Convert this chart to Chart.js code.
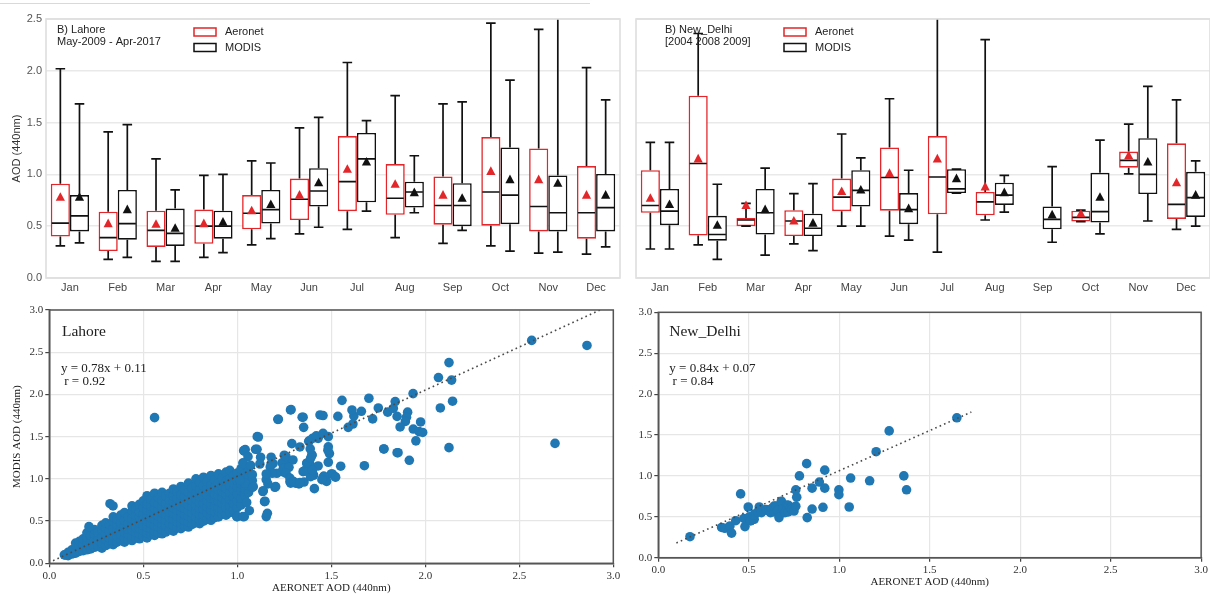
<!DOCTYPE html>
<html>
<head>
<meta charset="utf-8">
<script src="https://cdn.jsdelivr.net/npm/chart.js@4.4.1/dist/chart.umd.min.js"></script>
<style>
  html, body { margin: 0; padding: 0; background: #fff; }
  body { width: 1210px; height: 595px; position: relative; overflow: hidden; }
  .panel { position: absolute; }
  #rule { position: absolute; left: 0; top: 3px; width: 590px; height: 1px; background: #d9d9d9; }
</style>
</head>
<body>
<div id="rule"></div>
<div class="panel" style="left:0;top:0"><canvas id="boxLahore" width="625" height="300"></canvas></div>
<div class="panel" style="left:625px;top:0"><canvas id="boxDelhi" width="585" height="300"></canvas></div>
<div class="panel" style="left:0;top:300px"><canvas id="scatLahore" width="625" height="295"></canvas></div>
<div class="panel" style="left:625px;top:300px"><canvas id="scatDelhi" width="585" height="295"></canvas></div>
<script>
// ---- monthly AOD statistics, rows: [min, q1, median, q3, max, mean] ----
const months = ['Jan', 'Feb', 'Mar', 'Apr', 'May', 'Jun', 'Jul', 'Aug', 'Sep', 'Oct', 'Nov', 'Dec'];
const yTicks = [0, 0.5, 1.0, 1.5, 2.0, 2.5];

const lahoreAeronet = [
  [0.31, 0.40, 0.53, 0.91, 2.02, 0.78],
  [0.18, 0.26, 0.39, 0.64, 1.41, 0.525],
  [0.16, 0.30, 0.46, 0.65, 1.15, 0.52],
  [0.20, 0.33, 0.50, 0.66, 0.99, 0.525],
  [0.32, 0.47, 0.625, 0.80, 1.13, 0.65],
  [0.425, 0.56, 0.76, 0.96, 1.45, 0.80],
  [0.47, 0.645, 0.93, 1.37, 2.08, 1.05],
  [0.39, 0.61, 0.77, 1.10, 1.76, 0.905],
  [0.335, 0.515, 0.70, 0.98, 1.68, 0.80],
  [0.31, 0.505, 0.83, 1.36, 2.46, 1.03],
  [0.24, 0.45, 0.69, 1.25, 2.40, 0.95],
  [0.23, 0.38, 0.63, 1.08, 2.03, 0.80]
];
const lahoreModis = [
  [0.34, 0.45, 0.60, 0.80, 1.68, 0.78],
  [0.20, 0.37, 0.525, 0.85, 1.48, 0.66],
  [0.16, 0.31, 0.43, 0.67, 0.85, 0.48],
  [0.245, 0.38, 0.50, 0.65, 1.00, 0.54],
  [0.38, 0.525, 0.66, 0.85, 1.11, 0.71],
  [0.49, 0.69, 0.84, 1.06, 1.55, 0.92],
  [0.645, 0.73, 1.15, 1.40, 1.52, 1.12],
  [0.63, 0.68, 0.83, 0.93, 1.18, 0.825],
  [0.46, 0.50, 0.70, 0.915, 1.70, 0.77],
  [0.26, 0.52, 0.80, 1.26, 1.91, 0.95],
  [0.25, 0.45, 0.63, 0.99, 2.60, 0.915],
  [0.30, 0.45, 0.68, 1.005, 1.72, 0.80]
];
const delhiAeronet = [
  [0.28, 0.63, 0.70, 1.04, 1.31, 0.77],
  [0.32, 0.41, 1.105, 1.76, 2.36, 1.15],
  [0.50, 0.50, 0.56, 0.58, 0.72, 0.70],
  [0.33, 0.405, 0.55, 0.655, 0.815, 0.55],
  [0.50, 0.645, 0.78, 0.96, 1.39, 0.835],
  [0.405, 0.65, 0.97, 1.26, 1.73, 1.01],
  [0.25, 0.615, 0.975, 1.37, 2.60, 1.15],
  [0.56, 0.605, 0.735, 0.83, 2.30, 0.88],
  null,
  [0.545, 0.545, 0.585, 0.65, 0.655, 0.62],
  [1.005, 1.065, 1.135, 1.22, 1.485, 1.18],
  [0.47, 0.57, 0.71, 1.30, 1.72, 0.92]
];
const delhiModis = [
  [0.28, 0.51, 0.645, 0.86, 1.31, 0.71],
  [0.18, 0.36, 0.42, 0.60, 0.905, 0.51],
  [0.22, 0.42, 0.63, 0.86, 1.06, 0.66],
  [0.265, 0.405, 0.48, 0.62, 0.91, 0.53],
  [0.50, 0.69, 0.845, 1.04, 1.16, 0.85],
  [0.365, 0.52, 0.66, 0.82, 1.04, 0.67],
  [0.82, 0.82, 0.86, 1.05, 1.05, 0.96],
  [0.635, 0.705, 0.80, 0.92, 0.99, 0.825],
  [0.345, 0.47, 0.565, 0.69, 1.075, 0.61],
  [0.425, 0.535, 0.64, 1.015, 1.33, 0.78],
  [0.55, 0.81, 1.00, 1.35, 1.85, 1.12],
  [0.50, 0.59, 0.775, 1.025, 1.13, 0.80]
];

// ---- matched AERONET / MODIS AOD pairs [aeronet, modis] ----
const lahorePairs = [
  // dense band
  [0.08,0.10],[0.10,0.09],[0.10,0.13],[0.12,0.11],[0.12,0.16],
  [0.14,0.12],[0.14,0.18],[0.14,0.24],[0.16,0.14],[0.16,0.20],[0.16,0.26],
  [0.18,0.15],[0.18,0.22],[0.18,0.29],[0.20,0.16],[0.20,0.23],[0.20,0.31],[0.20,0.36],
  [0.22,0.17],[0.22,0.25],[0.22,0.33],[0.24,0.19],[0.24,0.27],[0.24,0.35],[0.24,0.40],
  [0.26,0.20],[0.26,0.28],[0.26,0.37],[0.28,0.18],[0.28,0.24],[0.28,0.31],[0.28,0.39],[0.28,0.45],
  [0.30,0.21],[0.30,0.28],[0.30,0.35],[0.30,0.42],[0.30,0.48],
  [0.32,0.23],[0.32,0.30],[0.32,0.38],[0.32,0.46],
  [0.34,0.22],[0.34,0.27],[0.34,0.33],[0.34,0.41],[0.34,0.50],[0.34,0.55],
  [0.36,0.25],[0.36,0.32],[0.36,0.38],[0.36,0.45],[0.36,0.52],
  [0.38,0.27],[0.38,0.34],[0.38,0.41],[0.38,0.48],[0.38,0.57],
  [0.40,0.25],[0.40,0.30],[0.40,0.37],[0.40,0.44],[0.40,0.51],[0.40,0.60],
  [0.42,0.28],[0.42,0.35],[0.42,0.40],[0.42,0.47],[0.42,0.55],
  [0.44,0.27],[0.44,0.33],[0.44,0.39],[0.44,0.46],[0.44,0.53],[0.44,0.62],[0.44,0.68],
  [0.46,0.30],[0.46,0.37],[0.46,0.43],[0.46,0.50],[0.46,0.57],[0.46,0.65],
  [0.48,0.29],[0.48,0.35],[0.48,0.41],[0.48,0.48],[0.48,0.55],[0.48,0.61],[0.48,0.70],
  [0.50,0.32],[0.50,0.39],[0.50,0.45],[0.50,0.52],[0.50,0.58],[0.50,0.66],[0.50,0.74],
  [0.52,0.30],[0.52,0.36],[0.52,0.43],[0.52,0.50],[0.52,0.56],[0.52,0.63],[0.52,0.70],[0.52,0.80],
  [0.54,0.34],[0.54,0.41],[0.54,0.47],[0.54,0.54],[0.54,0.61],[0.54,0.68],[0.54,0.76],
  [0.56,0.33],[0.56,0.38],[0.56,0.45],[0.56,0.52],[0.56,0.59],[0.56,0.65],[0.56,0.72],[0.56,0.83],
  [0.58,0.36],[0.58,0.43],[0.58,0.49],[0.58,0.56],[0.58,0.63],[0.58,0.70],[0.58,0.78],
  [0.60,0.35],[0.60,0.40],[0.60,0.46],[0.60,0.53],[0.60,0.60],[0.60,0.67],[0.60,0.74],[0.60,0.84],
  [0.62,0.37],[0.62,0.44],[0.62,0.51],[0.62,0.58],[0.62,0.64],[0.62,0.71],[0.62,0.80],
  [0.64,0.40],[0.64,0.47],[0.64,0.54],[0.64,0.61],[0.64,0.68],[0.64,0.75],[0.64,0.83],
  [0.66,0.38],[0.66,0.45],[0.66,0.52],[0.66,0.59],[0.66,0.66],[0.66,0.73],[0.66,0.80],[0.66,0.88],
  [0.68,0.42],[0.68,0.49],[0.68,0.56],[0.68,0.63],[0.68,0.70],[0.68,0.77],[0.68,0.85],
  [0.70,0.41],[0.70,0.47],[0.70,0.54],[0.70,0.61],[0.70,0.67],[0.70,0.74],[0.70,0.81],[0.70,0.91],
  [0.72,0.44],[0.72,0.51],[0.72,0.58],[0.72,0.65],[0.72,0.72],[0.72,0.79],[0.72,0.87],
  [0.74,0.43],[0.74,0.49],[0.74,0.56],[0.74,0.62],[0.74,0.69],[0.74,0.76],[0.74,0.84],[0.74,0.95],
  [0.76,0.46],[0.76,0.53],[0.76,0.60],[0.76,0.67],[0.76,0.74],[0.76,0.81],[0.76,0.89],
  [0.78,0.48],[0.78,0.55],[0.78,0.62],[0.78,0.69],[0.78,0.76],[0.78,0.83],[0.78,0.92],[0.78,1.00],
  [0.80,0.47],[0.80,0.51],[0.80,0.58],[0.80,0.65],[0.80,0.72],[0.80,0.79],[0.80,0.87],[0.80,0.96],
  [0.82,0.50],[0.82,0.57],[0.82,0.64],[0.82,0.71],[0.82,0.78],[0.82,0.85],[0.82,0.92],[0.82,1.02],
  [0.84,0.52],[0.84,0.60],[0.84,0.67],[0.84,0.74],[0.84,0.81],[0.84,0.89],[0.84,0.97],
  [0.86,0.51],[0.86,0.56],[0.86,0.63],[0.86,0.70],[0.86,0.77],[0.86,0.85],[0.86,0.93],[0.86,1.04],
  [0.88,0.54],[0.88,0.61],[0.88,0.68],[0.88,0.75],[0.88,0.82],[0.88,0.90],[0.88,0.99],
  [0.90,0.55],[0.90,0.62],[0.90,0.66],[0.90,0.73],[0.90,0.80],[0.90,0.87],[0.90,0.95],[0.90,1.06],
  [0.92,0.58],[0.92,0.64],[0.92,0.71],[0.92,0.78],[0.92,0.85],[0.92,0.92],[0.92,1.01],
  [0.94,0.57],[0.94,0.66],[0.94,0.74],[0.94,0.82],[0.94,0.89],[0.94,0.97],[0.94,1.08],
  [0.96,0.60],[0.96,0.68],[0.96,0.76],[0.96,0.84],[0.96,0.92],[0.96,1.00],[0.96,1.10],
  [0.98,0.63],[0.98,0.71],[0.98,0.79],[0.98,0.87],[0.98,0.95],[0.98,1.04],
  [1.00,0.66],[1.00,0.74],[1.00,0.82],[1.00,0.90],[1.00,0.98],[1.00,1.07],
  [1.02,0.69],[1.02,0.77],[1.02,0.86],[1.02,0.94],[1.02,1.03],[1.02,1.12],
  [1.04,0.80],[1.04,0.88],[1.04,0.97],[1.04,1.06],[1.06,0.84],[1.06,0.92],[1.06,1.00],[1.06,1.10],
  [1.08,0.90],[1.08,0.98],[1.08,1.05],
  // scattered points
  [0.56,1.725],[0.323,0.706],[0.339,0.679],[0.211,0.434],[0.114,0.126],[0.087,0.098],
  [1.037,1.33],[1.03,1.19],[0.997,0.552],[1.037,0.552],
  [1.106,1.50],[1.042,1.346],[1.097,1.35],[1.00,0.553],[1.03,0.553],[1.154,0.553],[1.145,0.73],
  [1.136,0.85],[1.154,0.99],[1.175,1.14],[1.20,0.90],[1.216,1.705],[1.283,1.816],[1.345,1.73],
  [1.25,1.28],[1.26,1.216],[1.24,1.086],[1.28,0.967],[1.31,0.95],[1.44,1.757],[1.43,1.48],
  [1.387,1.165],[1.357,1.095],[1.21,1.066],[1.19,1.18],
  [1.286,1.82],[1.218,1.706],[1.112,1.496],[1.034,1.334],[1.105,1.35],[1.057,1.263],[1.032,1.18],
  [1.071,1.16],[1.124,1.256],[1.12,1.176],[1.18,1.256],[1.18,1.176],[1.238,1.19],[1.259,1.263],
  [1.296,1.224],[1.29,1.417],[1.245,1.125],[1.275,1.137],[1.259,1.066],[1.28,1.01],[1.284,0.95],
  [1.328,0.94],[1.204,0.908],[1.163,0.94],[1.138,0.86],[1.147,0.735],[1.064,0.623],[1.05,0.72],
  [1.16,0.592],[1.185,1.066],[1.154,1.058],[1.35,1.085],[1.37,1.185],[1.397,1.28],[1.38,1.445],
  [1.417,1.49],[1.52,1.026],[1.50,1.058],[1.406,1.043],[1.46,1.03],[1.041,0.948],[1.085,0.908],[1.014,0.987],
  [1.355,0.963],[1.30,0.967],[1.387,1.16],
  [1.333,0.955],[1.333,1.378],[1.353,1.61],[1.35,1.73],[1.456,1.75],[1.535,1.74],[1.62,1.745],
  [1.61,1.816],[1.66,1.80],[1.557,1.93],[1.70,1.955],[1.75,1.84],[1.72,1.71],[1.615,1.65],[1.59,1.61],
  [1.80,1.79],[1.83,1.836],[1.84,1.915],[1.85,1.74],[1.906,1.79],[1.90,1.73],[1.894,1.68],[1.866,1.615],
  [1.935,2.01],[1.975,1.674],[1.936,1.59],[1.967,1.56],[1.986,1.55],[1.95,1.45],[1.78,1.354],
  [1.855,1.31],[1.915,1.22],[1.676,1.156],[1.55,1.15],[1.505,1.058],[1.523,1.02],[1.475,0.97],
  [1.46,1.03],[1.41,0.884],[1.40,1.066],[1.39,1.026],[1.355,1.09],[1.43,1.153],[1.484,1.197],
  [1.37,1.185],[1.39,1.244],[1.397,1.283],[1.49,1.30],[1.484,1.38],[1.482,1.34],[1.388,1.354],
  [1.383,1.45],[1.40,1.48],[1.42,1.51],[1.456,1.54],[1.484,1.50],[1.45,0.99],[1.40,1.10],
  [1.779,1.354],[1.85,1.31],
  [2.08,1.84],[2.145,1.92],[2.07,2.20],[2.14,2.17],[2.126,2.377],[2.126,1.37],[2.69,1.42],
  [2.566,2.64],[2.86,2.58]
];
const delhiPairs = [
  [0.175,0.257],[0.35,0.37],[0.368,0.36],[0.396,0.388],[0.405,0.30],[0.428,0.452],[0.455,0.78],
  [0.479,0.38],[0.473,0.48],[0.497,0.62],[0.503,0.50],[0.516,0.46],[0.53,0.47],[0.534,0.534],
  [0.51,0.45],[0.527,0.52],[0.55,0.56],[0.558,0.62],[0.57,0.55],[0.595,0.59],[0.60,0.58],
  [0.613,0.575],[0.62,0.55],[0.626,0.60],[0.64,0.56],[0.64,0.63],[0.65,0.63],[0.66,0.58],
  [0.667,0.49],[0.68,0.69],[0.69,0.60],[0.70,0.55],[0.71,0.644],[0.718,0.56],[0.72,0.64],
  [0.73,0.61],[0.737,0.59],[0.75,0.57],[0.76,0.63],[0.765,0.74],[0.76,0.83],[0.78,1.00],
  [0.82,1.15],[0.823,0.49],[0.85,0.595],[0.85,0.85],[0.89,0.925],[0.92,0.85],[0.92,1.07],
  [0.91,0.616],[0.998,0.83],[0.998,0.77],[1.055,0.62],[1.063,0.974],[1.168,0.94],[1.204,1.296],
  [1.276,1.55],[1.357,1.00],[1.372,0.83],[1.65,1.71]
];

// ---- dotted reference lines through each scatter [aeronet, modis] ----
const lahoreLine = [[0.02, 0.03], [2.93, 3.0]];
const delhiLine = [[0.10, 0.18], [1.73, 1.78]];

const RED = '#e3262a';
const INK = '#111111';
const SANS = '"Liberation Sans", Arial, sans-serif';
const SERIF = '"Liberation Serif", "Times New Roman", serif';

// whiskers, caps, medians and mean markers around each floating bar
const boxExtras = {
  id: 'boxExtras',
  afterDatasetsDraw(chart) {
    const { ctx, chartArea: a, scales: { y } } = chart;
    ctx.save();
    ctx.beginPath();
    ctx.rect(a.left, a.top, a.right - a.left, a.bottom - a.top);
    ctx.clip();
    chart.data.datasets.forEach((ds, di) => {
      const meta = chart.getDatasetMeta(di);
      meta.data.forEach((bar, i) => {
        const r = ds.stats[i];
        if (!r) return;
        const cx = bar.x, w = bar.width;
        const py = v => y.getPixelForValue(v);
        ctx.strokeStyle = INK;
        ctx.lineWidth = 1.7;
        ctx.beginPath();
        ctx.moveTo(cx, py(r[3])); ctx.lineTo(cx, py(r[4]));
        ctx.moveTo(cx, py(r[1])); ctx.lineTo(cx, py(r[0]));
        ctx.moveTo(cx - w / 4, py(r[4])); ctx.lineTo(cx + w / 4, py(r[4]));
        ctx.moveTo(cx - w / 4, py(r[0])); ctx.lineTo(cx + w / 4, py(r[0]));
        ctx.moveTo(cx - w / 2 + 1, py(r[2])); ctx.lineTo(cx + w / 2 - 1, py(r[2]));
        ctx.stroke();
        const my = py(r[5]);
        ctx.fillStyle = ds.borderColor;
        ctx.beginPath();
        ctx.moveTo(cx, my - 5);
        ctx.lineTo(cx + 4.6, my + 3.6);
        ctx.lineTo(cx - 4.6, my + 3.6);
        ctx.closePath();
        ctx.fill();
      });
    });
    ctx.restore();
  }
};

// border around the plotting area
const frame = {
  id: 'frame',
  afterDraw(chart, args, opts) {
    const { ctx, chartArea: a } = chart;
    ctx.save();
    ctx.strokeStyle = opts.color;
    ctx.lineWidth = opts.width;
    ctx.strokeRect(a.left, a.top, a.right - a.left, a.bottom - a.top);
    ctx.restore();
  }
};

// in-plot captions and key swatches, placed relative to the plotting area
const notes = {
  id: 'notes',
  afterDraw(chart, args, opts) {
    const { ctx, chartArea: a } = chart;
    ctx.save();
    (opts.boxes || []).forEach(b => {
      ctx.strokeStyle = b.color;
      ctx.lineWidth = 1.5;
      ctx.strokeRect(a.left + b.dx, a.top + b.dy, b.w, b.h);
    });
    (opts.texts || []).forEach(t => {
      ctx.font = t.font;
      ctx.fillStyle = t.color || '#222';
      ctx.textAlign = 'left';
      ctx.textBaseline = 'middle';
      ctx.fillText(t.text, a.left + t.dx, a.top + t.dy);
    });
    ctx.restore();
  }
};

function boxChart(id, aeronet, modis, opt) {
  const toRange = rows => rows.map(r => (r ? [r[1], r[3]] : null));
  return new Chart(document.getElementById(id), {
    type: 'bar',
    data: {
      labels: months,
      datasets: [
        { label: 'Aeronet', data: toRange(aeronet), stats: aeronet, borderColor: RED, backgroundColor: '#ffffff',
          borderWidth: 1.6, borderSkipped: false, categoryPercentage: 0.8, barPercentage: 1.0 },
        { label: 'MODIS', data: toRange(modis), stats: modis, borderColor: INK, backgroundColor: '#ffffff',
          borderWidth: 1.6, borderSkipped: false, categoryPercentage: 0.8, barPercentage: 1.0 }
      ]
    },
    options: {
      responsive: false,
      animation: false,
      layout: { padding: { top: 19, right: opt.padRight, left: 0, bottom: 0 } },
      scales: {
        x: {
          grid: { display: false, drawTicks: false, tickLength: 0 },
          border: { display: false },
          ticks: { color: '#444', font: { family: SANS, size: 11 }, padding: 3 },
          afterFit: s => { s.height = 22; }
        },
        y: {
          min: 0, max: 2.5,
          afterBuildTicks: s => { s.ticks = yTicks.map(v => ({ value: v })); },
          grid: { color: '#e9e9e9', lineWidth: 1.5, drawTicks: false },
          border: { display: false },
          ticks: { display: opt.showY, color: '#555', font: { family: SANS, size: 11 }, padding: 4,
                   callback: v => Number(v).toFixed(1) },
          title: { display: opt.showY, text: 'AOD (440nm)', color: '#333',
                   font: { family: SANS, size: 11 }, padding: { top: 10, bottom: 0 } },
          afterFit: s => { s.width = opt.axisWidth; }
        }
      },
      plugins: {
        legend: { display: false },
        tooltip: { enabled: false },
        frame: { color: '#dedede', width: 1.6 },
        notes: {
          boxes: [
            { dx: 148, dy: 9, w: 22, h: 8, color: RED },
            { dx: 148, dy: 24.5, w: 22, h: 8, color: INK }
          ],
          texts: [
            { text: opt.title[0], dx: opt.titleDx, dy: 11, font: '11px ' + SANS },
            { text: opt.title[1], dx: opt.titleDx, dy: 23, font: '11px ' + SANS },
            { text: 'Aeronet', dx: 179, dy: 13, font: '11px ' + SANS },
            { text: 'MODIS', dx: 179, dy: 28.5, font: '11px ' + SANS }
          ]
        }
      }
    },
    plugins: [boxExtras, frame, notes]
  });
}

function scatterChart(id, pairs, line, opt) {
  const axisTicks = [0, 0.5, 1.0, 1.5, 2.0, 2.5, 3.0];
  const axis = (extra) => Object.assign({
    type: 'linear', min: 0, max: 3,
    afterBuildTicks: s => { s.ticks = axisTicks.map(v => ({ value: v })); },
    grid: { color: '#e6e6e6', lineWidth: 1.2, tickColor: '#444', tickLength: 4, tickWidth: 1.2 },
    border: { color: '#555', width: 1.5 },
    ticks: { color: '#333', font: { family: SERIF, size: 11 }, padding: 2, callback: v => Number(v).toFixed(1) }
  }, extra);
  return new Chart(document.getElementById(id), {
    type: 'scatter',
    data: {
      datasets: [
        { data: line.map(([x, y]) => ({ x, y })), showLine: true, borderColor: '#4a4a4a', borderWidth: 1.6,
          borderDash: [1.6, 3.2], pointRadius: 0, fill: false },
        { data: pairs.map(([x, y]) => ({ x, y })), backgroundColor: '#1f77b4', borderWidth: 0, pointRadius: 4.8 }
      ]
    },
    options: {
      responsive: false,
      animation: false,
      layout: { padding: opt.padding },
      scales: {
        x: axis({
          title: { display: true, text: 'AERONET AOD (440nm)', color: '#222', font: { family: SERIF, size: 11 },
                   padding: { top: 0, bottom: 0 } },
          afterFit: s => { s.height = opt.xHeight; }
        }),
        y: axis({
          title: { display: opt.yTitle, text: 'MODIS AOD (440nm)', color: '#222', font: { family: SERIF, size: 11 },
                   padding: { top: 11, bottom: 0 } },
          afterFit: s => { s.width = opt.yWidth; }
        })
      },
      plugins: {
        legend: { display: false },
        tooltip: { enabled: false },
        frame: { color: '#555', width: 1.5 },
        notes: {
          texts: [
            { text: opt.site, dx: opt.siteDx, dy: opt.siteDy, font: '15.5px ' + SERIF, color: '#222' },
            { text: opt.eq, dx: opt.eqDx, dy: opt.eqDy, font: '13px ' + SERIF, color: '#222' },
            { text: opt.r, dx: opt.eqDx, dy: opt.eqDy + 13, font: '13px ' + SERIF, color: '#222' }
          ]
        }
      }
    },
    plugins: [frame, notes]
  });
}

boxChart('boxLahore', lahoreAeronet, lahoreModis, {
  padRight: 5, showY: true, axisWidth: 46, titleDx: 11, title: ['B) Lahore', 'May-2009 - Apr-2017']
});
boxChart('boxDelhi', delhiAeronet, delhiModis, {
  padRight: 0, showY: false, axisWidth: 11, titleDx: 29, title: ['B) New_Delhi', '[2004 2008 2009]']
});
scatterChart('scatLahore', lahorePairs, lahoreLine, {
  padding: { top: 10, right: 11.7, left: 0, bottom: 0 }, xHeight: 31.7, yWidth: 49.3, yTitle: true,
  site: 'Lahore', siteDx: 12.7, siteDy: 22, eq: 'y = 0.78x + 0.11', r: ' r = 0.92', eqDx: 11.7, eqDy: 59
});
scatterChart('scatDelhi', delhiPairs, delhiLine, {
  padding: { top: 12.3, right: 6, left: 0, bottom: 6 }, xHeight: 31.3, yWidth: 33.3, yTitle: false,
  site: 'New_Delhi', siteDx: 11, siteDy: 20, eq: 'y = 0.84x + 0.07', r: ' r = 0.84', eqDx: 11, eqDy: 56
});
</script>
</body>
</html>
